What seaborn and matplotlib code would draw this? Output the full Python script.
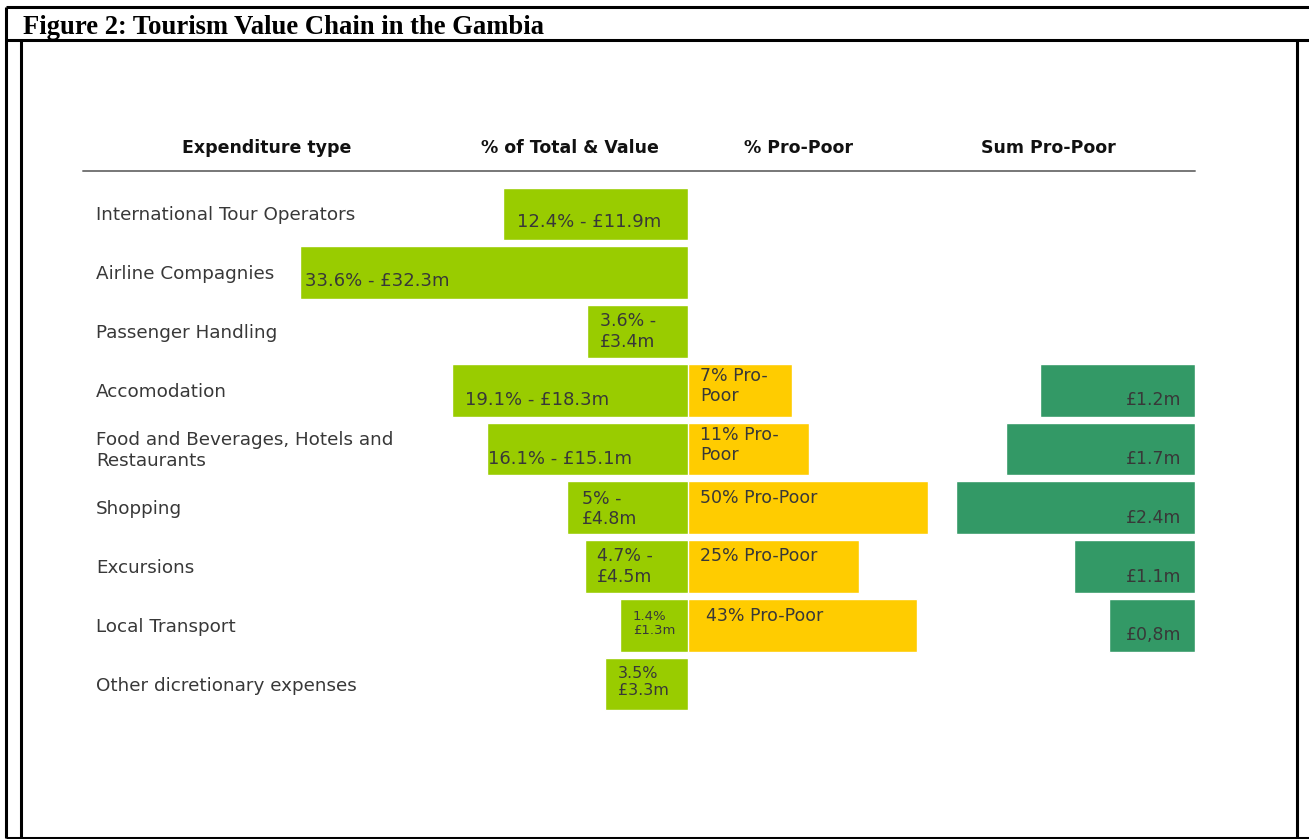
import numpy as np
import pandas as pd
import matplotlib
matplotlib.use("Agg")
import matplotlib.pyplot as plt
import matplotlib.transforms as mtransforms
from matplotlib.lines import Line2D
import seaborn as sns

# ---------------- data ----------------
categories = [
    "International Tour Operators",
    "Airline Compagnies",
    "Passenger Handling",
    "Accomodation",
    "Food and Beverages, Hotels and\nRestaurants",
    "Shopping",
    "Excursions",
    "Local Transport",
    "Other dicretionary expenses",
]
total_pct = [12.4, 33.6, 3.6, 19.1, 16.1, 5.0, 4.7, 1.4, 3.5]
total_value_m = [11.9, 32.3, 3.4, 18.3, 15.1, 4.8, 4.5, 1.3, 3.3]
# drawn bar lengths (schematic)
total_bar_len = [185, 388, 101, 236, 201, 121, 103, 68, 83]
total_labels = ["12.4% - £11.9m", "33.6% - £32.3m", "3.6% -\n£3.4m",
                "19.1% - £18.3m", "16.1% - £15.1m", "5% -\n£4.8m",
                "4.7% -\n£4.5m", "1.4%\n£1.3m", "3.5%\n£3.3m"]

pro_poor_cats = ["Accomodation", "Food and Beverages, Hotels and\nRestaurants",
                 "Shopping", "Excursions", "Local Transport"]
pro_poor_pct = [7, 11, 50, 25, 43]
pro_poor_bar_len = [104, 121, 240, 171, 229]
pro_poor_labels = ["7% Pro-\nPoor", "11% Pro-\nPoor", "50% Pro-Poor",
                   "25% Pro-Poor", "43% Pro-Poor"]

sum_pro_poor_m = [1.2, 1.7, 2.4, 1.1, 0.8]
sum_bar_len = [155, 189, 239, 121, 86]
sum_labels = ["£1.2m", "£1.7m", "£2.4m", "£1.1m", "£0,8m"]

headers = ["Expenditure type", "% of Total & Value", "% Pro-Poor", "Sum Pro-Poor"]
title = "Figure 2: Tourism Value Chain in the Gambia"

# ---------------- styling ----------------
sns.set_theme(style="white")
plt.rcParams["font.family"] = ["DejaVu Sans"]

W, H = 1309, 839
fig = plt.figure(figsize=(W / 100, H / 100), dpi=100)
fig.patch.set_facecolor("white")

def fx(px):
    return px / W

def fy(py):
    return 1 - py / H

GREEN = "#99CC00"
YELLOW = "#FFCC00"
DARK = "#339966"
TXT = "#383838"

row_top, row_bot = 184.6, 713.4
ax_b = fy(row_bot)
ax_h = (row_bot - row_top) / H
pitch = (row_bot - row_top) / len(categories)

anchor = 688
ax_g = fig.add_axes([fx(280), ax_b, fx(anchor - 280), ax_h])
ax_y = fig.add_axes([fx(anchor), ax_b, fx(948 - anchor), ax_h])
ax_d = fig.add_axes([fx(948), ax_b, fx(1195 - 948), ax_h])

df_tot = pd.DataFrame({"cat": categories, "len": total_bar_len})
df_pp = pd.DataFrame({"cat": pro_poor_cats, "len": pro_poor_bar_len})
df_sum = pd.DataFrame({"cat": pro_poor_cats, "len": sum_bar_len})

sns.barplot(data=df_tot, x="len", y="cat", order=categories, orient="h",
            color=GREEN, saturation=1, width=0.9, ax=ax_g, errorbar=None)
sns.barplot(data=df_pp, x="len", y="cat", order=categories, orient="h",
            color=YELLOW, saturation=1, width=0.9, ax=ax_y, errorbar=None)
sns.barplot(data=df_sum, x="len", y="cat", order=categories, orient="h",
            color=DARK, saturation=1, width=0.9, ax=ax_d, errorbar=None)

ax_g.set_xlim(anchor - 280, 0)
ax_y.set_xlim(0, 948 - anchor)
ax_d.set_xlim(1195 - 948, 0)
for a in (ax_g, ax_y, ax_d):
    a.set_ylim(len(categories) - 0.5, -0.5)
    a.axis("off")

# green labels: (distance from anchor to text start in px, vertical offset px, fontsize)
g_pos = [(171, 8, 13), (383, 8.5, 13), (88, 0, 12.5), (223, 10, 13), (200, 10, 13),
         (106, 1, 12.5), (91, 0, 12.5), (55, -2, 9.5), (70, -2, 11.5)]
for i, (lab, (dx, dy, fs)) in enumerate(zip(total_labels, g_pos)):
    ax_g.text(dx, i + dy / pitch, lab, ha="left", va="center", fontsize=fs,
              color=TXT, linespacing=1.15, clip_on=False)

y_pos = [(12, -4), (12, -4), (12, -9.5), (12, -10.5), (18, -9.5)]
for cat, lab, (dx, dy) in zip(pro_poor_cats, pro_poor_labels, y_pos):
    i = categories.index(cat)
    ax_y.text(dx, i + dy / pitch, lab, ha="left", va="center", fontsize=12.5,
              color=TXT, linespacing=1.15, clip_on=False)

for cat, lab in zip(pro_poor_cats, sum_labels):
    i = categories.index(cat)
    ax_d.text(14, i + 10 / pitch, lab, ha="right", va="center", fontsize=12.5,
              color=TXT, clip_on=False)

# category labels
tr = mtransforms.blended_transform_factory(fig.transFigure, ax_g.transData)
for i, cat in enumerate(categories):
    fig.text(fx(96), i + 1.5 / pitch, cat, transform=tr, ha="left", va="center",
             fontsize=13.2, color=TXT, linespacing=1.2)

# headers
for txt, cx in zip(headers, [267, 570, 798, 1048]):
    fig.text(fx(cx), fy(148), txt, ha="center", va="center", fontsize=12.5,
             fontweight="bold", color="#111111")
fig.add_artist(Line2D([fx(83), fx(1195)], [fy(171), fy(171)], color="#777777",
                      lw=1.4, transform=fig.transFigure))

# title and frame
fig.text(fx(23), fy(34), title, ha="left", va="baseline", fontsize=19.2,
         fontweight="bold", family=["Liberation Serif", "DejaVu Serif"], color="black")
lw = 2.2
frame = [
    ([6, W], [7, 7]),
    ([6, W], [40, 40]),
    ([6, 6], [7, 838]),
    ([21, 21], [40, 838]),
    ([1297, 1297], [40, 838]),
    ([6, W], [837.5, 837.5]),
]
for xs, ys in frame:
    fig.add_artist(Line2D([fx(v) for v in xs], [fy(v) for v in ys], color="black",
                          lw=lw, transform=fig.transFigure, solid_capstyle="butt"))

fig.savefig("out.png", dpi=100, facecolor="white")
